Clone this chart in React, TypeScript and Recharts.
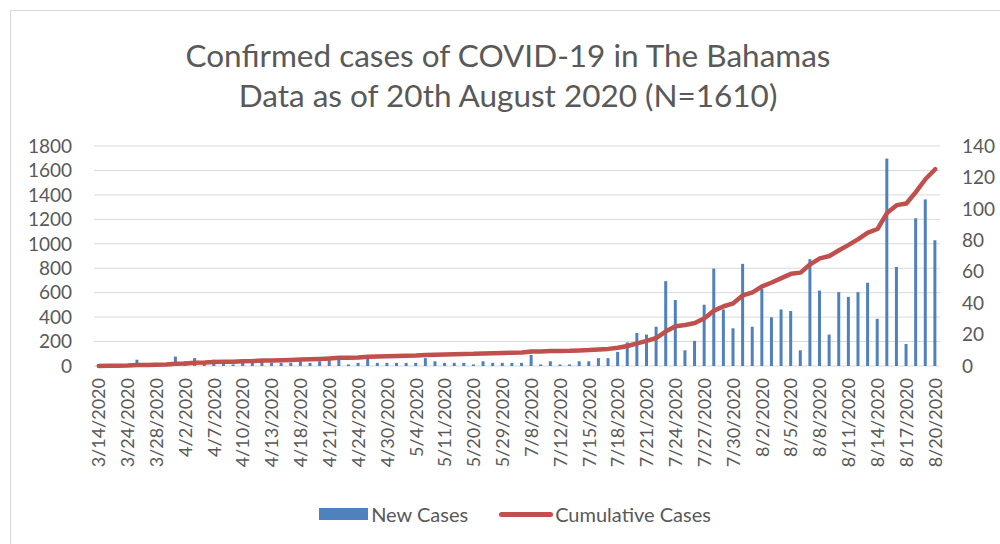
import { ComposedChart, Bar, Line, XAxis, YAxis, CartesianGrid, Legend } from "recharts";

const dates = [
  "3/14/2020", "3/15/2020", "3/19/2020", "3/24/2020", "3/25/2020", "3/26/2020", "3/28/2020", "3/30/2020", "4/1/2020", "4/2/2020",
  "4/4/2020", "4/5/2020", "4/7/2020", "4/8/2020", "4/9/2020", "4/10/2020", "4/11/2020", "4/12/2020", "4/13/2020", "4/15/2020",
  "4/16/2020", "4/18/2020", "4/19/2020", "4/20/2020", "4/21/2020", "4/22/2020", "4/23/2020", "4/24/2020", "4/26/2020", "4/28/2020",
  "4/30/2020", "5/1/2020", "5/2/2020", "5/4/2020", "5/6/2020", "5/8/2020", "5/11/2020", "5/14/2020", "5/17/2020", "5/20/2020",
  "5/23/2020", "5/26/2020", "5/29/2020", "6/5/2020", "6/20/2020", "7/8/2020", "7/10/2020", "7/11/2020", "7/12/2020", "7/13/2020",
  "7/14/2020", "7/15/2020", "7/16/2020", "7/17/2020", "7/18/2020", "7/19/2020", "7/20/2020", "7/21/2020", "7/22/2020", "7/23/2020",
  "7/24/2020", "7/25/2020", "7/26/2020", "7/27/2020", "7/28/2020", "7/29/2020", "7/30/2020", "7/31/2020", "8/1/2020", "8/2/2020",
  "8/3/2020", "8/4/2020", "8/5/2020", "8/6/2020", "8/7/2020", "8/8/2020", "8/9/2020", "8/10/2020", "8/11/2020", "8/12/2020",
  "8/13/2020", "8/14/2020", "8/15/2020", "8/16/2020", "8/17/2020", "8/18/2020", "8/19/2020", "8/20/2020",
];

// daily new cases (right axis)
const newCases = [
  1, 1, 1, 1, 4, 1, 2, 1, 6, 3,
  5, 2, 4, 2, 1, 3, 2, 4, 2, 2,
  2, 3, 2, 3, 4, 5, 1, 2, 5, 2,
  2, 2, 2, 2, 5, 3, 2, 2, 2, 1,
  3, 2, 2, 2, 2, 7, 1, 3, 1, 1,
  3, 3, 5, 5, 9, 15, 21, 20, 25, 54,
  42, 10, 16, 39, 62, 36, 24, 65, 25, 49,
  31, 36, 35, 10, 68, 48, 20, 47, 44, 47,
  53, 30, 132, 63, 14, 94, 106, 80,
];

// running total (left axis)
const cumulativeCases = [
  1, 2, 3, 4, 8, 9, 11, 12, 18, 21,
  26, 28, 32, 34, 35, 38, 40, 44, 46, 48,
  50, 53, 55, 58, 62, 67, 68, 70, 75, 77,
  79, 81, 83, 85, 90, 93, 95, 97, 99, 100,
  103, 105, 107, 109, 111, 118, 119, 122, 123, 124,
  127, 130, 135, 140, 149, 164, 185, 205, 230, 284,
  326, 336, 352, 391, 453, 489, 513, 578, 603, 652,
  683, 719, 754, 764, 832, 880, 900, 947, 991, 1038,
  1091, 1121, 1253, 1316, 1330, 1424, 1530, 1610,
];

const leftTicks = [0, 200, 400, 600, 800, 1000, 1200, 1400, 1600, 1800];
const rightTicks = [0, 20, 40, 60, 80, 100, 120, 140];

const data = dates.map((date, i) => ({
  date,
  newCases: newCases[i],
  cumulative: cumulativeCases[i],
}));

const FONT = "Lato, 'Open Sans', sans-serif";
const TEXT = "#595959";
const BLUE = "#4f81bd";
const RED = "#c0504d";

function DateTick({ x, y, payload }: any) {
  return (
    <text
      x={x}
      y={y}
      transform={`rotate(-90, ${x}, ${y})`}
      textAnchor="end"
      dy="0.36em"
      fill={TEXT}
      fontSize={18}
      fontFamily={FONT}
    >
      {payload.value}
    </text>
  );
}

function LegendBox({ payload }: any) {
  // bars first, then the line, as in the original
  const items = [...(payload || [])].sort((a: any, b: any) => (a.type === "rect" ? -1 : 0) - (b.type === "rect" ? -1 : 0));
  return (
    <div
      style={{
        display: "flex",
        justifyContent: "center",
        alignItems: "center",
        height: 40,
        paddingLeft: 30,
        fontFamily: FONT,
        fontSize: 20,
        color: TEXT,
      }}
    >
      {items.map((p: any) => (
        <div key={p.value} style={{ display: "flex", alignItems: "center", flexShrink: 0, marginRight: p.type === "rect" ? 31 : 0 }}>
          {p.type === "rect" ? (
            <span style={{ width: 49, height: 12, flexShrink: 0, background: p.color, marginRight: 3 }} />
          ) : (
            <span style={{ width: 54, height: 5, flexShrink: 0, borderRadius: 3, background: p.color, marginRight: 2 }} />
          )}
          <span style={{ whiteSpace: "nowrap" }}>{p.value}</span>
        </div>
      ))}
    </div>
  );
}

export default function App() {
  return (
    <div style={{ position: "absolute", left: 0, top: 0, width: 1000, height: 544, background: "#fff", overflow: "hidden" }}>
      <div
        style={{
          position: "absolute",
          left: 10,
          top: 10,
          width: 1000,
          height: 600,
          border: "1px solid #d9d9d9",
        }}
      />
      <div
        style={{
          position: "absolute",
          left: 8,
          width: 1000,
          top: 35,
          textAlign: "center",
          fontFamily: FONT,
          fontSize: 31.5,
          lineHeight: "40px",
          color: TEXT,
        }}
      >
        <div>Confirmed cases of COVID-19 in The Bahamas</div>
        <div>Data as of 20th August 2020 (N=1610)</div>
      </div>
      <div style={{ position: "absolute", left: 0, top: 0 }}>
        <ComposedChart width={1000} height={544} data={data} margin={{ top: 146, right: 0, bottom: 10, left: 0 }}>
          <CartesianGrid vertical={false} stroke="#d9d9d9" yAxisId="left" />
          <XAxis
            dataKey="date"
            interval={2}
            tickLine={false}
            axisLine={false}
            tickMargin={6}
            height={128}
            tick={<DateTick />}
          />
          <YAxis
            yAxisId="left"
            domain={[0, 1800]}
            ticks={leftTicks}
            interval={0}
            width={94}
            axisLine={false}
            tickLine={false}
            tickMargin={16}
            tick={{ fill: TEXT, fontSize: 19, fontFamily: FONT }}
          />
          <YAxis
            yAxisId="right"
            orientation="right"
            domain={[0, 140]}
            ticks={rightTicks}
            interval={0}
            width={60}
            axisLine={false}
            tickLine={false}
            tickMargin={16}
            tick={{ fill: TEXT, fontSize: 19, fontFamily: FONT, textAnchor: "start" }}
          />
          <Legend verticalAlign="bottom" height={40} content={<LegendBox />} />
          <Bar yAxisId="right" dataKey="newCases" name="New Cases" fill={BLUE} barSize={3} isAnimationActive={false} legendType="rect" />
          <Line
            yAxisId="left"
            dataKey="cumulative"
            name="Cumulative Cases"
            type="linear"
            stroke={RED}
            strokeWidth={4.5}
            strokeLinecap="round"
            strokeLinejoin="round"
            dot={false}
            activeDot={false}
            isAnimationActive={false}
            legendType="line"
          />
        </ComposedChart>
      </div>
    </div>
  );
}
